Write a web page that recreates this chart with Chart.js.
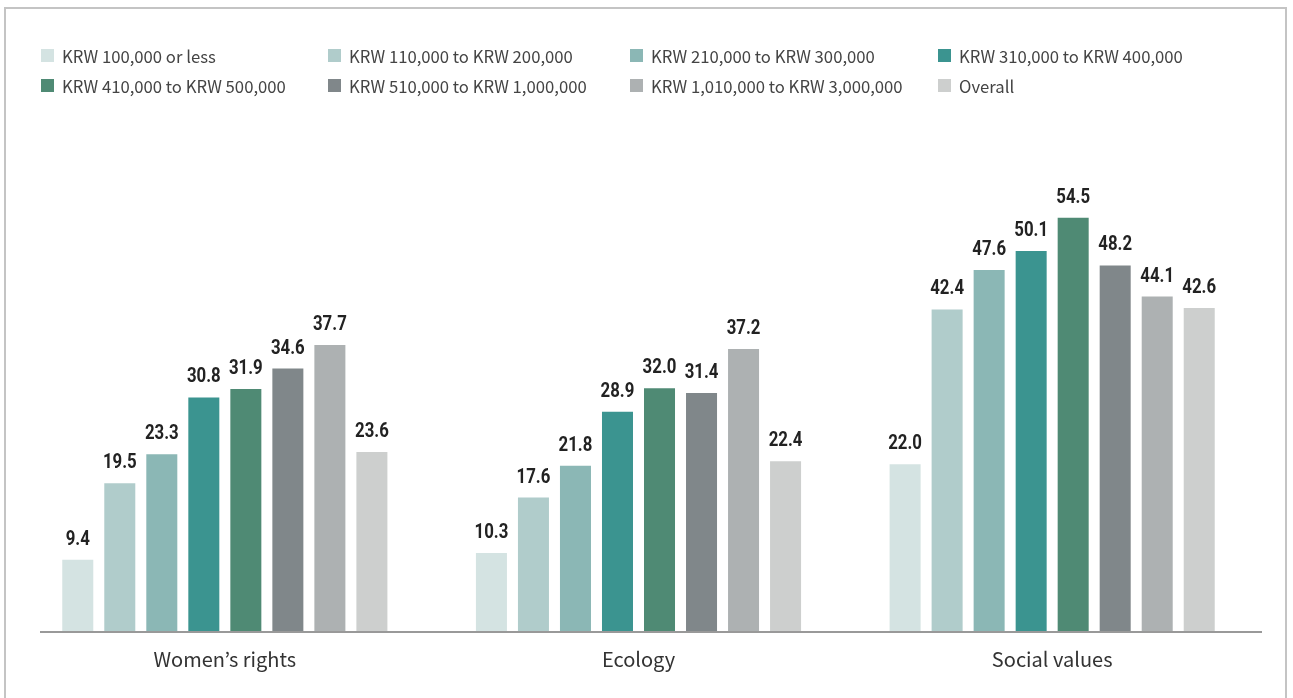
<!DOCTYPE html>
<html lang="en">
<head>
    <meta charset="UTF-8">
    <title>Social participation by income</title>
    <script src="https://cdn.jsdelivr.net/npm/chart.js"></script>
    <style>
        html, body { margin: 0; padding: 0; background: #fff; }
        .frame {
            position: absolute; left: 4px; top: 7px; width: 1283px; height: 700px;
            border: 2px solid #c4c4c4; box-sizing: border-box;
        }
        .chart-wrap { position: absolute; left: 0; top: 0; width: 1293px; height: 698px; }
        .legend {
            position: absolute; left: 41px; top: 46px;
            display: grid; grid-template-columns: 287px 302px 308px 300px; row-gap: 11px;
            font-family: "Noto Sans CJK KR", "Noto Sans", sans-serif; font-size: 16.7px; color: #444;
        }
        .legend .item { display: flex; align-items: center; height: 19px; white-space: nowrap; }
        .legend .box { width: 13px; height: 13px; margin-right: 8px; }
    </style>
</head>
<body>
    <div class="frame"></div>
    <div class="chart-wrap"><canvas id="incomeChart" width="1293" height="698"></canvas></div>
    <div class="legend" id="legend"></div>

    <script>
        const categories = ["Women\u2019s rights", "Ecology", "Social values"];
        const seriesNames = [
            "KRW 100,000 or less", "KRW 110,000 to KRW 200,000", "KRW 210,000 to KRW 300,000", "KRW 310,000 to KRW 400,000",
            "KRW 410,000 to KRW 500,000", "KRW 510,000 to KRW 1,000,000", "KRW 1,010,000 to KRW 3,000,000", "Overall"
        ];
        const upTo100k = [9.4, 10.3, 22.0];
        const from110kTo200k = [19.5, 17.6, 42.4];
        const from210kTo300k = [23.3, 21.8, 47.6];
        const from310kTo400k = [30.8, 28.9, 50.1];
        const from410kTo500k = [31.9, 32.0, 54.5];
        const from510kTo1m = [34.6, 31.4, 48.2];
        const from1mTo3m = [37.7, 37.2, 44.1];
        const overall = [23.6, 22.4, 42.6];
        const seriesColors = ["#d4e3e2", "#b0cccb", "#8bb7b5", "#3b9490", "#4f8a74", "#80878a", "#adb1b2", "#cdcfce"];

        const seriesValues = [upTo100k, from110kTo200k, from210kTo300k, from310kTo400k, from410kTo500k, from510kTo1m, from1mTo3m, overall];

        // legend in a fixed 4-column grid
        const legendEl = document.getElementById("legend");
        seriesNames.forEach((name, i) => {
            const item = document.createElement("div");
            item.className = "item";
            item.innerHTML = `<span class="box" style="background:${seriesColors[i]}"></span><span>${name}</span>`;
            legendEl.appendChild(item);
        });

        // value labels above each bar (squeezed to look condensed) + baseline
        const barLabels = {
            id: "barLabels",
            afterDatasetsDraw(chart) {
                const ctx = chart.ctx;
                ctx.save();
                ctx.font = "bold 21px 'Roboto', sans-serif";
                ctx.fillStyle = "#222";
                ctx.textAlign = "center";
                ctx.textBaseline = "alphabetic";
                chart.data.datasets.forEach((ds, di) => {
                    chart.getDatasetMeta(di).data.forEach((bar, i) => {
                        ctx.save();
                        ctx.translate(bar.x, bar.y - 15);
                        ctx.scale(0.8, 1);
                        ctx.fillText(ds.data[i].toFixed(1), 0, 0);
                        ctx.restore();
                    });
                });
                const y = chart.scales.y.getPixelForValue(0);
                ctx.strokeStyle = "#999";
                ctx.lineWidth = 2;
                ctx.beginPath();
                ctx.moveTo(40, y + 1);
                ctx.lineTo(1262, y + 1);
                ctx.stroke();
                ctx.restore();
            }
        };

        new Chart(document.getElementById("incomeChart"), {
            type: "bar",
            data: {
                labels: categories,
                datasets: seriesValues.map((vals, i) => ({
                    label: seriesNames[i],
                    data: vals,
                    backgroundColor: seriesColors[i],
                    borderWidth: 0,
                    categoryPercentage: 0.8126,
                    barPercentage: 0.738
                }))
            },
            options: {
                responsive: false,
                animation: false,
                layout: { padding: { left: 18, right: 34, top: 176, bottom: 11 } },
                plugins: { legend: { display: false }, tooltip: { enabled: false } },
                scales: {
                    x: {
                        grid: { display: false, drawTicks: false },
                        border: { display: false },
                        ticks: {
                            padding: 16,
                            color: "#333",
                            font: { family: "'Noto Sans CJK KR', 'Noto Sans', sans-serif", size: 20 }
                        }
                    },
                    y: { display: false, min: 0, max: 60 }
                }
            },
            plugins: [barLabels]
        });
    </script>
</body>
</html>
